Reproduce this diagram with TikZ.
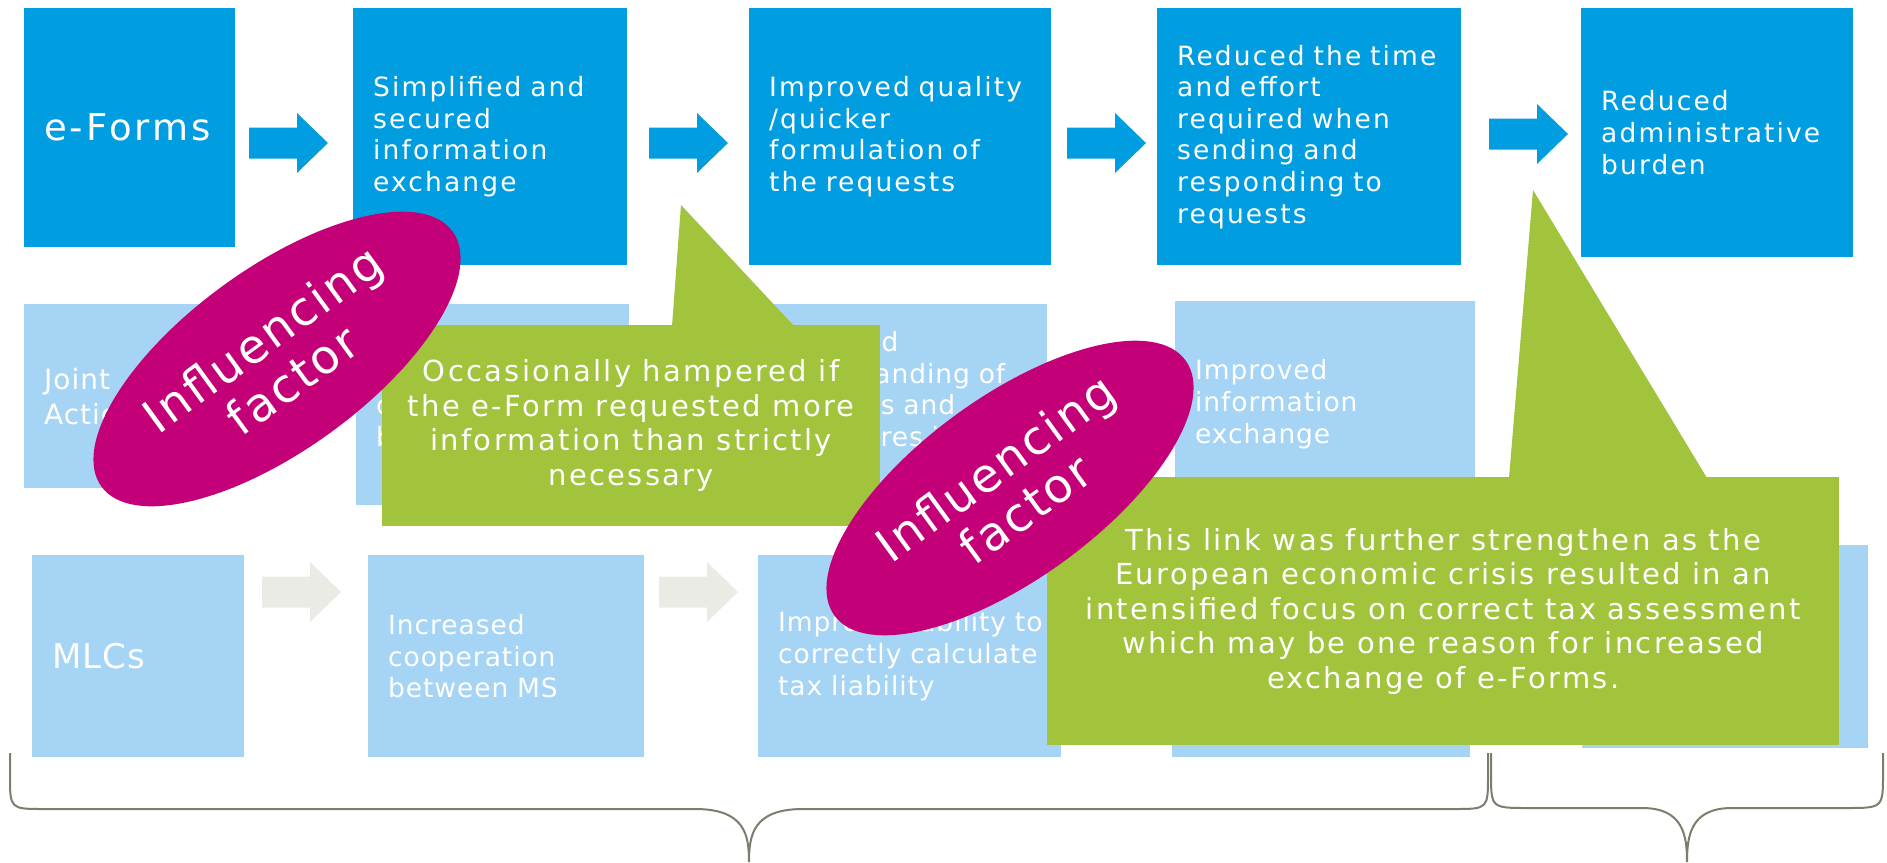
\documentclass[tikz,border=0pt]{standalone}
\usepackage{fontspec}
\setmainfont{DejaVu Sans}[LetterSpace=8]
\newfontfamily\inflfamily{DejaVu Sans}[LetterSpace=5]
\newfontfamily\plainfamily{DejaVu Sans}[LetterSpace=3.5]
\usetikzlibrary{shapes.geometric}

\definecolor{efblue}{RGB}{0,158,224}
\definecolor{efpale}{RGB}{166,212,244}
\definecolor{efgreen}{RGB}{162,195,60}
\definecolor{efmagenta}{RGB}{196,0,120}
\definecolor{efgrey}{RGB}{235,235,230}
\definecolor{efbrace}{RGB}{125,125,110}

\newcommand{\boxfont}{\fontsize{26.5}{31.6}\selectfont}
\newcommand{\palefont}{\plainfamily\fontsize{26.5}{31.6}\selectfont}
\newcommand{\leadfont}{\fontsize{37}{44}\selectfont}
\newcommand{\remarkfont}{\fontsize{29}{34.5}\selectfont}
\newcommand{\inflfont}{\inflfamily\fontsize{47}{51}\selectfont}

% block arrow: tail x, centre y, colour
\newcommand{\flowarrow}[3]{%
  \fill[#3] (#1,#2) ++(0,-15.5) -- ++(48,0) -- ++(0,-14.5) -- ++(31,30)
  -- ++(-31,30) -- ++(0,-14.5) -- ++(-48,0) -- cycle;}

\tikzset{
  stage/.style={fill=efblue, text=white, anchor=north west, align=left,
    inner xsep=20pt, inner ysep=0pt, font=\boxfont,
    execute at begin node={\rightskip=0pt plus 1fil minus 60pt}},
  pale/.style={stage, fill=efpale, font=\palefont},
  remark/.style={fill=efgreen, text=white, anchor=north west, align=center,
    inner sep=0pt, font=\remarkfont},
  influence/.style={ellipse, fill=efmagenta, text=white, align=center,
    minimum width=434pt, minimum height=182pt, inner sep=0pt, rotate=36,
    font=\inflfont},
  bracket/.style={draw=efbrace, line width=2pt},
}

\begin{document}
\begin{tikzpicture}[x=1pt,y=-1pt]
  \fill[white] (0,0) rectangle (1887,862);
  \useasboundingbox (0,0) rectangle (1887,862);

  % e-Forms chain
  \node[stage, text width=171pt, minimum height=239pt, font=\leadfont] (eforms) at (24,8) {e-Forms};
  \node[stage, text width=234pt, minimum height=257pt] (secured) at (353,8)
    {Simplified and\\secured\\information\\exchange};
  \node[stage, text width=262pt, minimum height=257pt] (quality) at (749,8)
    {Improved quality\\/quicker\\formulation of\\the requests};
  \node[stage, text width=264pt, minimum height=257pt] (effort) at (1157,8)
    {Reduced the time\\and effort\\required when\\sending and\\responding to\\requests};
  \node[stage, text width=232pt, minimum height=249pt] (burden) at (1581,8)
    {Reduced\\administrative\\burden};

  % Joint Actions chain
  \node[pale, text width=171pt, minimum height=184pt, font=\plainfamily\fontsize{28}{35}\selectfont] (joint) at (24,304)
    {Joint\\Actions};
  \node[pale, text width=233pt, minimum height=201pt] (jcoop) at (356,304)
    {Increased\\cooperation\\between MS};
  \node[pale, text width=261pt, minimum height=201pt] (jpract) at (746,304)
    {Improved\\understanding of\\practices and\\procedures in\\\mbox{}};
  \node[pale, text width=260pt, minimum height=206pt] (jinfo) at (1175,301)
    {Improved\\information\\exchange};

  % MLC chain
  \node[pale, text width=172pt, minimum height=202pt, font=\plainfamily\fontsize{34}{40}\selectfont] (mlcs) at (32,555) {MLCs};
  \node[pale, text width=236pt, minimum height=202pt] (mcoop) at (368,555)
    {Increased\\cooperation\\between MS};
  \node[pale, text width=263pt, minimum height=202pt] (mtax) at (758,555)
    {Improved ability to\\correctly calculate\\tax liability\\[18pt]};
  \node[pale, text width=258pt, minimum height=202pt] (mfour) at (1172,555) {};
  \node[pale, text width=246pt, minimum height=203pt] (mfive) at (1582,545) {};

  \flowarrow{249}{143}{efblue}
  \flowarrow{649}{143}{efblue}
  \flowarrow{1067}{143}{efblue}
  \flowarrow{1489}{134}{efblue}
  \flowarrow{262}{592}{efgrey}
  \flowarrow{659}{592}{efgrey}

  % braces
  \draw[bracket] (10,753) -- (10,775) .. controls (10,809) .. (44,809) -- (695,809)
    .. controls (745,809) and (749,835) .. (749,862)
    .. controls (749,835) and (753,809) .. (803,809) -- (1454,809)
    .. controls (1488,809) .. (1488,775) -- (1488,753);
  \draw[bracket] (1491,753) -- (1491,773) .. controls (1491,808) .. (1528,808) -- (1642,808)
    .. controls (1683,808) and (1687,835) .. (1687,862)
    .. controls (1687,835) and (1691,808) .. (1732,808) -- (1846,808)
    .. controls (1883,808) .. (1883,773) -- (1883,753);

  % callouts
  \coordinate (tip1) at (681,205);
  \coordinate (tip2) at (1533,190);
  \node[remark, minimum width=498pt, minimum height=201pt] (remark1) at (382,325)
    {Occasionally hampered if\\the e-Form requested more\\information than strictly\\necessary};
  \fill[efgreen] ([xshift=290pt,yshift=-1pt]remark1.north west) -- (tip1)
    -- ([xshift=412pt,yshift=-1pt]remark1.north west) -- cycle;
  \node[remark, minimum width=792pt, minimum height=268pt] (remark2) at (1047,477)
    {This link was further strengthen as the\\European economic crisis resulted in an\\intensified focus on correct tax assessment\\which may be one reason for increased\\exchange of e-Forms.};
  \fill[efgreen] ([xshift=462pt,yshift=-1pt]remark2.north west) -- (tip2)
    -- ([xshift=660pt,yshift=-1pt]remark2.north west) -- cycle;

  \node[influence] (infl1) at (277,359) {Influencing\\factor};
  \node[influence] (infl2) at (1010,488) {Influencing\\factor};
\end{tikzpicture}
\end{document}
